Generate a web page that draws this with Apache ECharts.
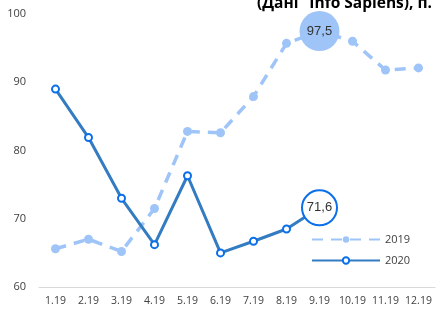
<!DOCTYPE html>
<html>
<head>
<meta charset="utf-8">
<script src="https://cdn.jsdelivr.net/npm/echarts@6/dist/echarts.min.js"></script>
<style>
  html, body { margin: 0; padding: 0; background: #fff; }
  #chart { width: 439px; height: 310px; }
</style>
</head>
<body>
<div id="chart"></div>
<script>
// місяці
const months = ["1.19", "2.19", "3.19", "4.19", "5.19", "6.19", "7.19", "8.19", "9.19", "10.19", "11.19", "12.19"];
// значення індексу
const values2019 = [65.6, 67.0, 65.2, 71.5, 82.8, 82.6, 87.9, 95.7, 97.5, 96.0, 91.8, 92.1];
const values2020 = [89.0, 81.9, 73.0, 66.2, 76.3, 65.0, 66.7, 68.5, 71.6];
const yTicks = [60, 70, 80, 90, 100];
const highlightIndex = 8; // 9.19 - підписане значення

const fmt = (v) => String(v).replace(".", ",");

const chart = echarts.init(document.getElementById("chart"));

const data2019 = values2019.map((v, i) =>
  i === highlightIndex
    ? {
        value: v,
        symbol: "circle",
        symbolSize: 40,
        itemStyle: { color: "#9fc5f8" },
        label: { show: true, position: "inside", formatter: fmt(v), color: "#333", fontSize: 13 },
      }
    : v
);

const data2020 = values2020.map((v, i) =>
  i === highlightIndex
    ? {
        value: v,
        symbol: "circle",
        symbolSize: 35,
        itemStyle: { color: "#fff", borderColor: "#0a6fe8", borderWidth: 2 },
        label: { show: true, position: "inside", formatter: fmt(v), color: "#333", fontSize: 13 },
      }
    : v
);

const option = {
  animation: false,
  title: {
    text: "(Дані \u201cInfo Sapiens), п.",
    right: 2,
    top: -9,
    textStyle: { fontFamily: "Open Sans", fontSize: 15.5, fontWeight: "bold", color: "#000" },
  },
  grid: { left: 39, right: 4, top: 14, bottom: 23 },
  legend: {
    orient: "vertical",
    left: 306,
    top: 229,
    itemWidth: 68,
    itemHeight: 8,
    itemGap: 10,
    textStyle: { fontFamily: "Open Sans", fontSize: 11, color: "#404040" },
    data: ["2019", "2020"],
  },
  xAxis: {
    type: "category",
    data: months,
    boundaryGap: true,
    axisLine: { lineStyle: { color: "#d9d9d9", width: 1 } },
    axisTick: { show: false },
    axisLabel: { interval: 0, fontFamily: "Open Sans", fontSize: 10.5, color: "#404040", margin: 9 },
  },
  yAxis: {
    type: "value",
    min: yTicks[0],
    max: yTicks[yTicks.length - 1],
    interval: 10,
    splitLine: { show: false },
    axisLine: { show: false },
    axisTick: { show: false },
    axisLabel: { fontFamily: "Open Sans", fontSize: 11, color: "#404040", margin: 13 },
  },
  series: [
    {
      name: "2019",
      type: "line",
      data: data2019,
      symbol: "circle",
      symbolSize: 9,
      lineStyle: { color: "#9fc5f8", width: 3.5, type: [11, 8] },
      itemStyle: { color: "#9fc5f8" },
      z: 2,
    },
    {
      name: "2020",
      type: "line",
      data: data2020,
      symbol: "circle",
      symbolSize: 7,
      lineStyle: { color: "#347cc2", width: 3 },
      itemStyle: { color: "#fff", borderColor: "#0a6fe8", borderWidth: 2 },
      z: 3,
    },
  ],
};

chart.setOption(option);
</script>
</body>
</html>
